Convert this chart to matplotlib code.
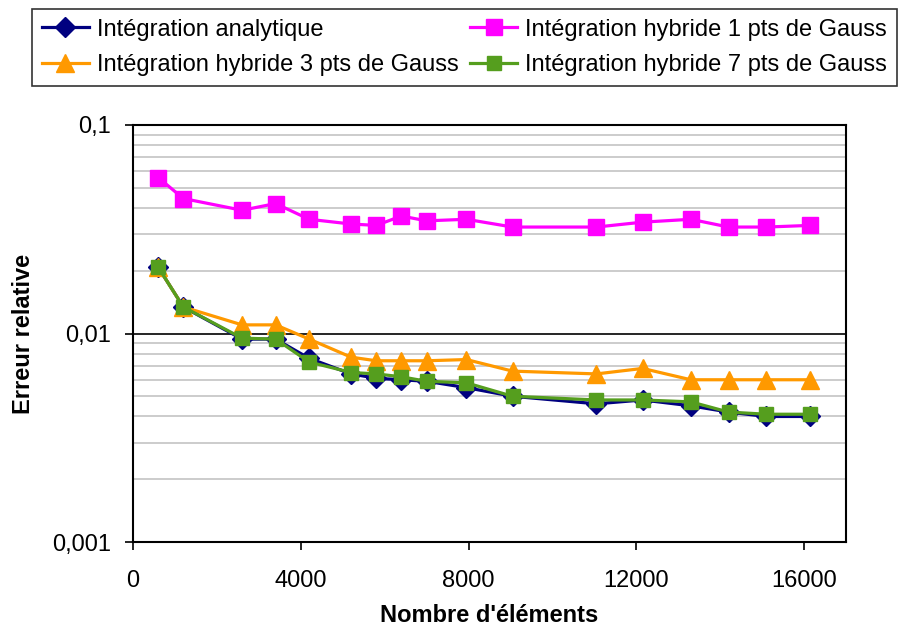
import matplotlib
matplotlib.use("Agg")
import matplotlib.pyplot as plt
from matplotlib.ticker import FixedLocator, FixedFormatter, NullFormatter, LogLocator

plt.rcParams['font.family'] = ['Liberation Sans', 'DejaVu Sans']

n_elements = [600, 1200, 2600, 3400, 4200, 5200, 5800, 6400, 7000, 7950,
              9050, 11050, 12150, 13300, 14200, 15100, 16150]
err_analytique = [0.0208, 0.0134, 0.0094, 0.0094, 0.0076, 0.0064, 0.0061, 0.0060, 0.0059, 0.0055,
                  0.0050, 0.0046, 0.0048, 0.0045, 0.0042, 0.0040, 0.0040]
err_hyb1 = [0.0560, 0.0444, 0.0390, 0.0420, 0.0353, 0.0335, 0.0330, 0.0366, 0.0347, 0.0353,
            0.0324, 0.0324, 0.0342, 0.0353, 0.0324, 0.0324, 0.0330]
err_hyb3 = [0.0208, 0.0134, 0.0110, 0.0110, 0.0094, 0.0077, 0.0074, 0.0074, 0.0074, 0.0075,
            0.0066, 0.0064, 0.0068, 0.0060, 0.0060, 0.0060, 0.0060]
err_hyb7 = [0.0208, 0.0134, 0.0095, 0.0094, 0.0073, 0.0065, 0.0064, 0.0062, 0.0059, 0.0058,
            0.0050, 0.0048, 0.0048, 0.0047, 0.0042, 0.0041, 0.0041]

labels = ["Intégration analytique", "Intégration hybride 1 pts de Gauss",
          "Intégration hybride 3 pts de Gauss", "Intégration hybride 7 pts de Gauss"]
x_ticks = [0, 4000, 8000, 12000, 16000]
y_ticks = [0.001, 0.01, 0.1]
y_ticklabels = ["0,001", "0,01", "0,1"]

fig = plt.figure(figsize=(8.98, 6.33), dpi=100)
ax = fig.add_axes([133/898, 1 - 542/633, (846-133)/898, (542-125)/633])

ax.set_yscale('log')
ax.set_ylim(0.001, 0.1)
ax.set_xlim(0, 17000)

ax.yaxis.set_minor_locator(LogLocator(base=10, subs=range(2, 10)))
ax.yaxis.set_minor_formatter(NullFormatter())
ax.grid(True, which='minor', axis='y', color='#C8C8C8', linewidth=1.3)
ax.grid(True, which='major', axis='y', color='black', linewidth=1.2)
ax.set_axisbelow(True)

l_an, = ax.plot(n_elements, err_analytique, color='#000080', marker='D', markersize=10.5,
                linewidth=2.3, label=labels[0], zorder=3)
l_h1, = ax.plot(n_elements, err_hyb1, color='#FF00FF', marker='s', markersize=11,
                linewidth=2.3, label=labels[1], zorder=3)
l_h3, = ax.plot(n_elements, err_hyb3, color='#FF9900', marker='^', markersize=13.5,
                linewidth=2.3, label=labels[2], zorder=3)
l_h7, = ax.plot(n_elements, err_hyb7, color='#559E1E', marker='s', markersize=10,
                linewidth=2.3, label=labels[3], zorder=4)

ax.set_xticks(x_ticks)
ax.set_xticklabels([str(v) for v in x_ticks])
ax.yaxis.set_major_locator(FixedLocator(y_ticks))
ax.yaxis.set_major_formatter(FixedFormatter(y_ticklabels))
ax.tick_params(axis='x', which='major', direction='out', length=6, width=1.2,
               labelsize=17, pad=14)
ax.tick_params(axis='y', which='major', direction='out', length=6, width=1.2,
               labelsize=17, pad=10)
ax.tick_params(axis='y', which='minor', length=0)
for s in ax.spines.values():
    s.set_linewidth(1.5)
    s.set_color('black')

ax.set_xlabel("Nombre d'éléments", fontsize=17, fontweight='bold', labelpad=9)
ax.set_ylabel("Erreur relative", fontsize=17, fontweight='bold', labelpad=12)

leg = fig.legend(handles=[l_an, l_h3, l_h1, l_h7], loc='upper left',
                 bbox_to_anchor=(32/898, 1 - 86/633, (897-32)/898, (86-9)/633),
                 ncol=2, mode='expand', fontsize=17, frameon=True, fancybox=False,
                 edgecolor='black', handlelength=2.0, handletextpad=0.35,
                 columnspacing=0.5, borderaxespad=0, borderpad=0.41, labelspacing=0.58)
leg.get_frame().set_linewidth(1.2)

fig.savefig("out.png", dpi=100)
